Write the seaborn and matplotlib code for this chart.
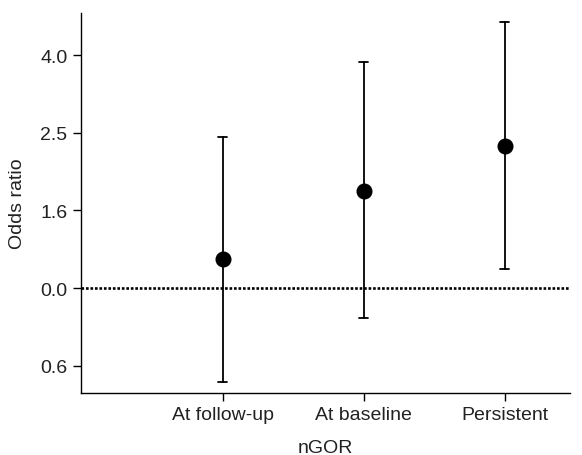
import numpy as np
import pandas as pd
import seaborn as sns
import matplotlib.pyplot as plt

# categories and estimates, in positions of the (evenly spaced) y ticks
groups = ['At follow-up', 'At baseline', 'Persistent']
estimate = [0.38, 1.25, 1.83]
lower = [-1.21, -0.39, 0.25]
upper = [1.95, 2.91, 3.43]

tick_pos = [-1, 0, 1, 2, 3]
tick_labels = ['0.6', '0.0', '1.6', '2.5', '4.0']

rows = []
for g, lo, est, hi in zip(groups, lower, estimate, upper):
    for v in (lo, est, hi):
        rows.append({'nGOR': g, 'value': v})
df = pd.DataFrame(rows)

sns.set_style('ticks')
plt.rcParams['font.family'] = ['Liberation Sans', 'DejaVu Sans']
plt.rcParams['text.color'] = '#222222'
plt.rcParams['axes.labelcolor'] = '#222222'
plt.rcParams['xtick.labelcolor'] = '#222222'
plt.rcParams['ytick.labelcolor'] = '#222222'

fig = plt.figure(figsize=(5.82, 4.56), dpi=100)
ax = fig.add_axes([0.140, 0.137, 0.839, 0.832])

sns.pointplot(data=df, x='nGOR', y='value', order=groups,
              estimator=np.median, errorbar=lambda v: (v.min(), v.max()),
              color='black', linestyle='none', markersize=9.5,
              capsize=0.065, err_kws={'linewidth': 1.3}, ax=ax)

ax.axhline(0, color='black', linestyle=(0, (1, 0.7)), linewidth=1.9, zorder=0)

ax.set_xlim(-1, 2.46)
ax.set_ylim(-1.345, 3.54)
ax.set_yticks(tick_pos)
ax.set_yticklabels(tick_labels)
ax.set_xlabel('nGOR', fontsize=14, labelpad=11)
ax.set_ylabel('Odds ratio', fontsize=14, labelpad=10)
ax.tick_params(labelsize=14, length=6, width=1, color='black', pad=4)
sns.despine(ax=ax)
for s in ['left', 'bottom']:
    ax.spines[s].set_linewidth(1)
    ax.spines[s].set_color('black')

fig.savefig('out.png', dpi=100)
